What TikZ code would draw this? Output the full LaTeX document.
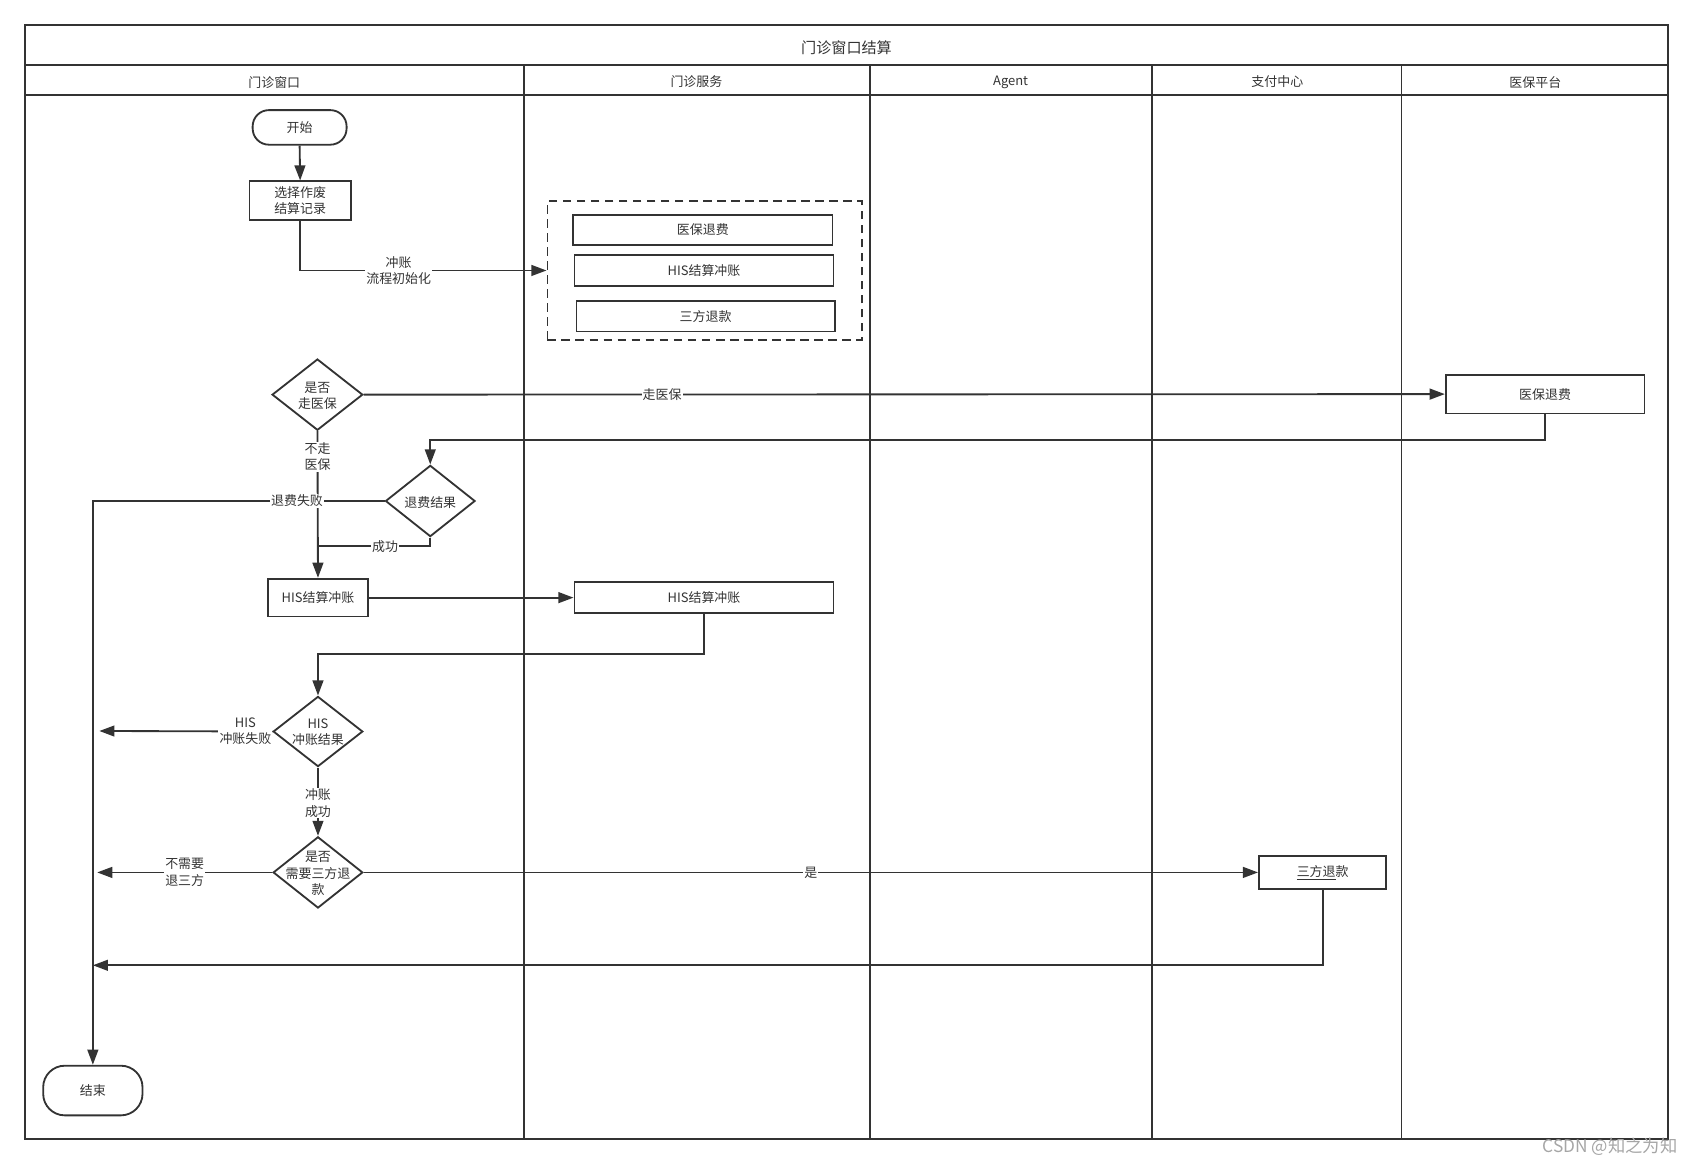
\documentclass[tikz,border=0pt]{standalone}
\usepackage{fontspec}
\setmainfont{Noto Sans CJK SC}
\usetikzlibrary{arrows.meta,shapes.geometric,calc}
\definecolor{ink}{HTML}{333333}
\begin{document}
\begin{tikzpicture}[x=1pt,y=-1pt,
  txt/.style={text=ink, font=\fontsize{12}{15}\selectfont},
  box/.style={txt, draw=ink, line width=1.7pt, rectangle, inner sep=0pt, align=center},
  term/.style={box, rounded corners=15pt},
  dia/.style={draw=ink, line width=1.7pt, diamond, inner sep=0pt},
  dlab/.style={txt, align=center, inner sep=0pt},
  ln/.style={draw=ink, line width=1.7pt},
  arr/.style={ln, -{Triangle[length=14pt,width=10pt]}},
  lbl/.style={txt, fill=white, inner sep=1pt, align=center},
  hdr/.style={txt}
]
\useasboundingbox (0,0) rectangle (1568,1079);
% pool frame
\draw[ln] (23,23) rectangle (1545,1055);
\draw[ln] (23,60) -- (1545,60);
\draw[ln] (23,88) -- (1545,88);
\foreach \xx in {485,806,1067,1298} \draw[ln] (\xx,60) -- (\xx,1055);
\node[hdr, font=\fontsize{14}{17}\selectfont] (title) at (784,44) {门诊窗口结算};
\node[hdr] (lane1) at (254,76) {门诊窗口};
\node[hdr] (lane2) at (645,76) {门诊服务};
\node[hdr] (lane3) at (936,76) {Agent};
\node[hdr] (lane4) at (1183,76) {支付中心};
\node[hdr] (lane5) at (1422,76) {医保平台};

% nodes
\node[term, minimum width=87pt, minimum height=32pt] (start) at (277.5,118) {开始};
\node[box, minimum width=94pt, minimum height=36pt] (sel) at (278,186) {选择作废\\结算记录};
\node[box, dashed, dash pattern=on 8pt off 5pt, minimum width=291pt, minimum height=129pt] (grp) at (652.5,250.5) {};
\node[box, minimum width=240pt, minimum height=28pt] (g1) at (651,213) {医保退费};
\node[box, minimum width=240pt, minimum height=29pt] (g2) at (652,250.5) {HIS结算冲账};
\node[box, minimum width=239pt, minimum height=28pt] (g3) at (653.5,293) {三方退款};

\node[dia, minimum width=84pt, minimum height=66pt] (d1) at (294,365.5) {};
\node[dlab] (d1t) at (294,366.5) {是否\\走医保};
\node[box, minimum width=184pt, minimum height=36pt] (r1) at (1431,365) {医保退费};
\node[dia, minimum width=83pt, minimum height=66pt] (d2) at (398.5,464) {};
\node[dlab] (d2t) at (398.5,465) {退费结果};
\coordinate (j1) at (294,506);
\node[box, minimum width=93pt, minimum height=35pt] (h1) at (294.5,553.5) {HIS结算冲账};
\node[box, minimum width=240pt, minimum height=29pt] (h2) at (652,553.5) {HIS结算冲账};
\node[dia, minimum width=83pt, minimum height=65pt] (d3) at (294.5,677.5) {};
\node[dlab] (d3t) at (294.5,678.5) {HIS\\冲账结果};
\node[dia, minimum width=83pt, minimum height=66pt] (d4) at (294.5,808) {};
\node[dlab] (d4t) at (294.5,809) {是否\\需要三方退\\款};
\node[box, minimum width=118pt, minimum height=30pt] (s1) at (1225,808) {\underline{三方退}款};
\node[term, rounded corners=20pt, minimum width=92pt, minimum height=46pt] (end) at (86,1010) {结束};
\coordinate (f1) at (92,677);
\coordinate (f2) at (90,808);
\coordinate (f3) at (86,894);

% connectors
\draw[arr] (start.south) -- (sel.north);
\draw[arr] (sel.south) |- (grp.west) node[lbl, pos=0.7] {冲账\\流程初始化};
\draw[arr] (d1.east) -- (r1.west) node[lbl, pos=0.276] {走医保};
\draw[arr] (r1.south) -- ++(0,24) -| (d2.north);
\draw[arr] (d1.south) -- (h1.north) node[lbl, pos=0.175] {不走\\医保};
\draw[arr] (d2.west) -| (end.north) node[lbl, pos=0.15] {退费失败};
\draw[ln] (d2.south) |- (j1) node[lbl, pos=0.7] {成功};
\draw[arr] (h1.east) -- (h2.west);
\draw[arr] (h2.south) -- ++(0,37) -| (d3.north);
\draw[arr] (d3.west) -- (f1) node[lbl, pos=0.155] {HIS\\冲账失败};
\draw[arr] (d3.south) -- (d4.north) node[lbl, pos=0.52] {冲账\\成功};
\draw[arr] (d4.west) -- (f2) node[lbl, pos=0.5] {不需要\\退三方};
\draw[arr] (d4.east) -- (s1.west) node[lbl, pos=0.5] {是};
\draw[arr] (s1.south) |- (f3);

\node[text=black!35, font=\fontsize{16}{18}\selectfont, anchor=east] (wm) at (1557,1062) {CSDN @知之为知};
\end{tikzpicture}
\end{document}
